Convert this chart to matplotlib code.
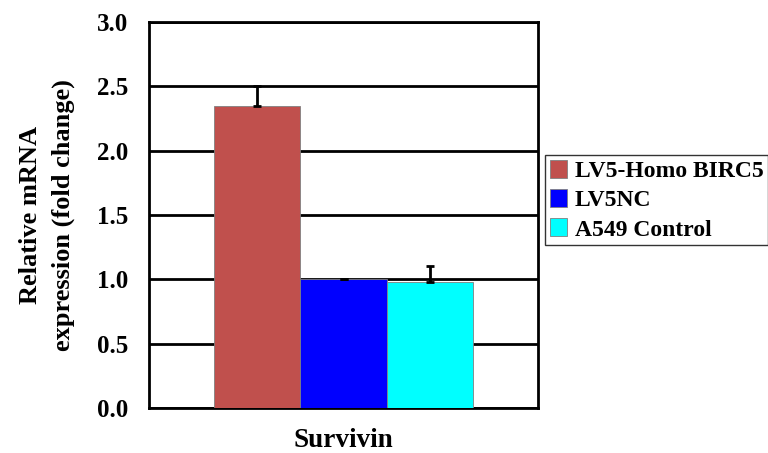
import matplotlib

matplotlib.use("Agg")
import matplotlib.pyplot as plt

plt.rcParams["font.family"] = ["Liberation Serif", "DejaVu Serif"]
plt.rcParams["font.weight"] = "bold"

groups = ["LV5-Homo BIRC5", "LV5NC", "A549 Control"]
means = [2.35, 1.00, 0.98]
errs = [0.15, 0.005, 0.12]
colors = ["#c0504d", "#0000ff", "#00ffff"]
category = "Survivin"
yticks = [0.0, 0.5, 1.0, 1.5, 2.0, 2.5, 3.0]

fig = plt.figure(figsize=(7.68, 4.53), dpi=100)
ax = fig.add_axes([149 / 768, 1 - 408 / 453, 389 / 768, 386 / 453])

xs = [-1, 0, 1]
for x, m, e, c, g in zip(xs, means, errs, colors, groups):
    ax.bar(x, m, width=1.0, color=c, edgecolor="#808080", linewidth=0.6,
           label=g, zorder=3)
    ax.errorbar(x, m, yerr=[[0], [e]], fmt="none", ecolor="black",
                elinewidth=2, capsize=3, capthick=2, zorder=4)

ax.set_xlim(-2.25, 2.25)
ax.set_ylim(0, 3.0)
ax.set_yticks(yticks)
ax.set_yticklabels([f"{t:.1f}" for t in yticks], fontsize=18, fontweight="bold")
ax.tick_params(axis="y", length=0, pad=15)
ax.set_xticks([0])
ax.set_xticklabels([category], fontsize=19.5, fontweight="bold")
ax.tick_params(axis="x", length=0, pad=14.5)
ax.yaxis.grid(True, color="black", linewidth=2, zorder=0)
ax.set_axisbelow(True)
for s in ax.spines.values():
    s.set_linewidth(2)
    s.set_color("black")

ax.set_ylabel("Relative mRNA\nexpression (fold change)", fontsize=19,
              fontweight="bold", labelpad=16, linespacing=1.5)

fig.legend(loc="upper left", bbox_to_anchor=(545 / 768, 1 - 155 / 453),
           frameon=True, fancybox=False, edgecolor="black",
           prop={"weight": "bold", "size": 17}, handlelength=0.75,
           handleheight=0.8, handletextpad=0.3, borderpad=0.2,
           labelspacing=0.3, borderaxespad=0)

fig.savefig("out.png", dpi=100)
